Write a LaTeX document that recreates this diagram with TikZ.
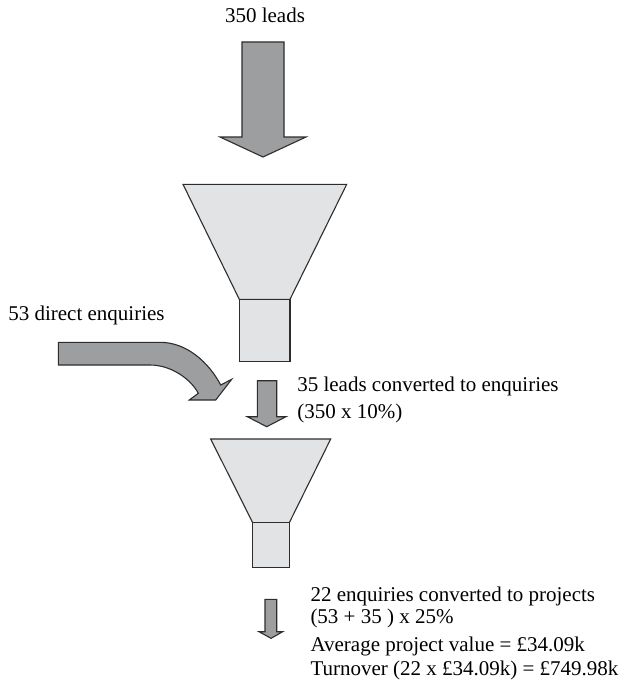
\documentclass[tikz,border=0pt]{standalone}
\usepackage{fontspec}
\setmainfont{Liberation Serif}
\definecolor{arrowgray}{RGB}{157,158,160}
\definecolor{funnelgray}{RGB}{226,227,229}
\definecolor{edgegray}{RGB}{45,45,45}
\begin{document}
\begin{tikzpicture}[x=1pt,y=-1pt,
  fatarrow/.style={fill=arrowgray,draw=edgegray,line width=1.1pt,line join=miter},
  funnelpart/.style={fill=funnelgray,draw=edgegray,line width=1.1pt,line join=miter},
  lbl/.style={inner sep=0pt,outer sep=0pt,font=\fontsize{21}{25}\selectfont}]
\useasboundingbox (0,0) rectangle (626,682);
% top arrow
\draw[fatarrow] (242,42) -- (284,42) -- (284,137) -- (306,137) -- (263,157) -- (220,137) -- (242,137) -- cycle;
% funnel 1
\draw[funnelpart] (183,184.3) -- (346.7,184.3) -- (290,299.3) -- (239.3,299.3) -- cycle;
\draw[funnelpart] (239.3,299.3) rectangle (290,361.7);
% curved arrow
\draw[fatarrow] (58.3,342.3) -- (160,342.3) .. controls (187,342.3) and (209,362.8) .. (220.7,385)
  -- (231.7,379.3) -- (215.7,400) -- (189.3,400) -- (198.3,393.3)
  .. controls (191.4,380) and (172,365) .. (150,365) -- (58.3,365) -- cycle;
% arrow 2
\draw[fatarrow] (257.3,380.7) -- (276.7,380.7) -- (276.7,416.7) -- (286,416.7) -- (266.7,426.7) -- (247.3,416.7) -- (257.3,416.7) -- cycle;
% funnel 2
\draw[funnelpart] (210.7,439) -- (330.7,439) -- (289.3,522.7) -- (252.7,522.7) -- cycle;
\draw[funnelpart] (252.7,522.7) rectangle (289.3,567.7);
% arrow 3
\draw[fatarrow] (265,599.3) -- (276.7,599.3) -- (276.7,631.7) -- (282.7,631.7) -- (271,638.3) -- (259,631.7) -- (265,631.7) -- cycle;
% labels
\node[lbl,anchor=base] (leads) at (265,22.5) {350 leads};
\node[lbl,anchor=base west] (direct) at (8.3,320.7) {53 direct enquiries};
\node[lbl,anchor=base west] (conv1) at (297.3,391.5) {35 leads converted to enquiries};
\node[lbl,anchor=base west] (conv1b) at (297.3,418.5) {(350 x 10\%)};
\node[lbl,anchor=base west] (conv2) at (310.5,601.5) {22 enquiries converted to projects};
\node[lbl,anchor=base west] (conv2b) at (310.5,623.5) {(53 + 35 ) x 25\%};
\node[lbl,anchor=base west] (avg) at (310.5,651.5) {Average project value = £34.09k};
\node[lbl,anchor=base west] (turn) at (310.5,675) {Turnover (22 x £34.09k) = £749.98k};
\end{tikzpicture}
\end{document}
